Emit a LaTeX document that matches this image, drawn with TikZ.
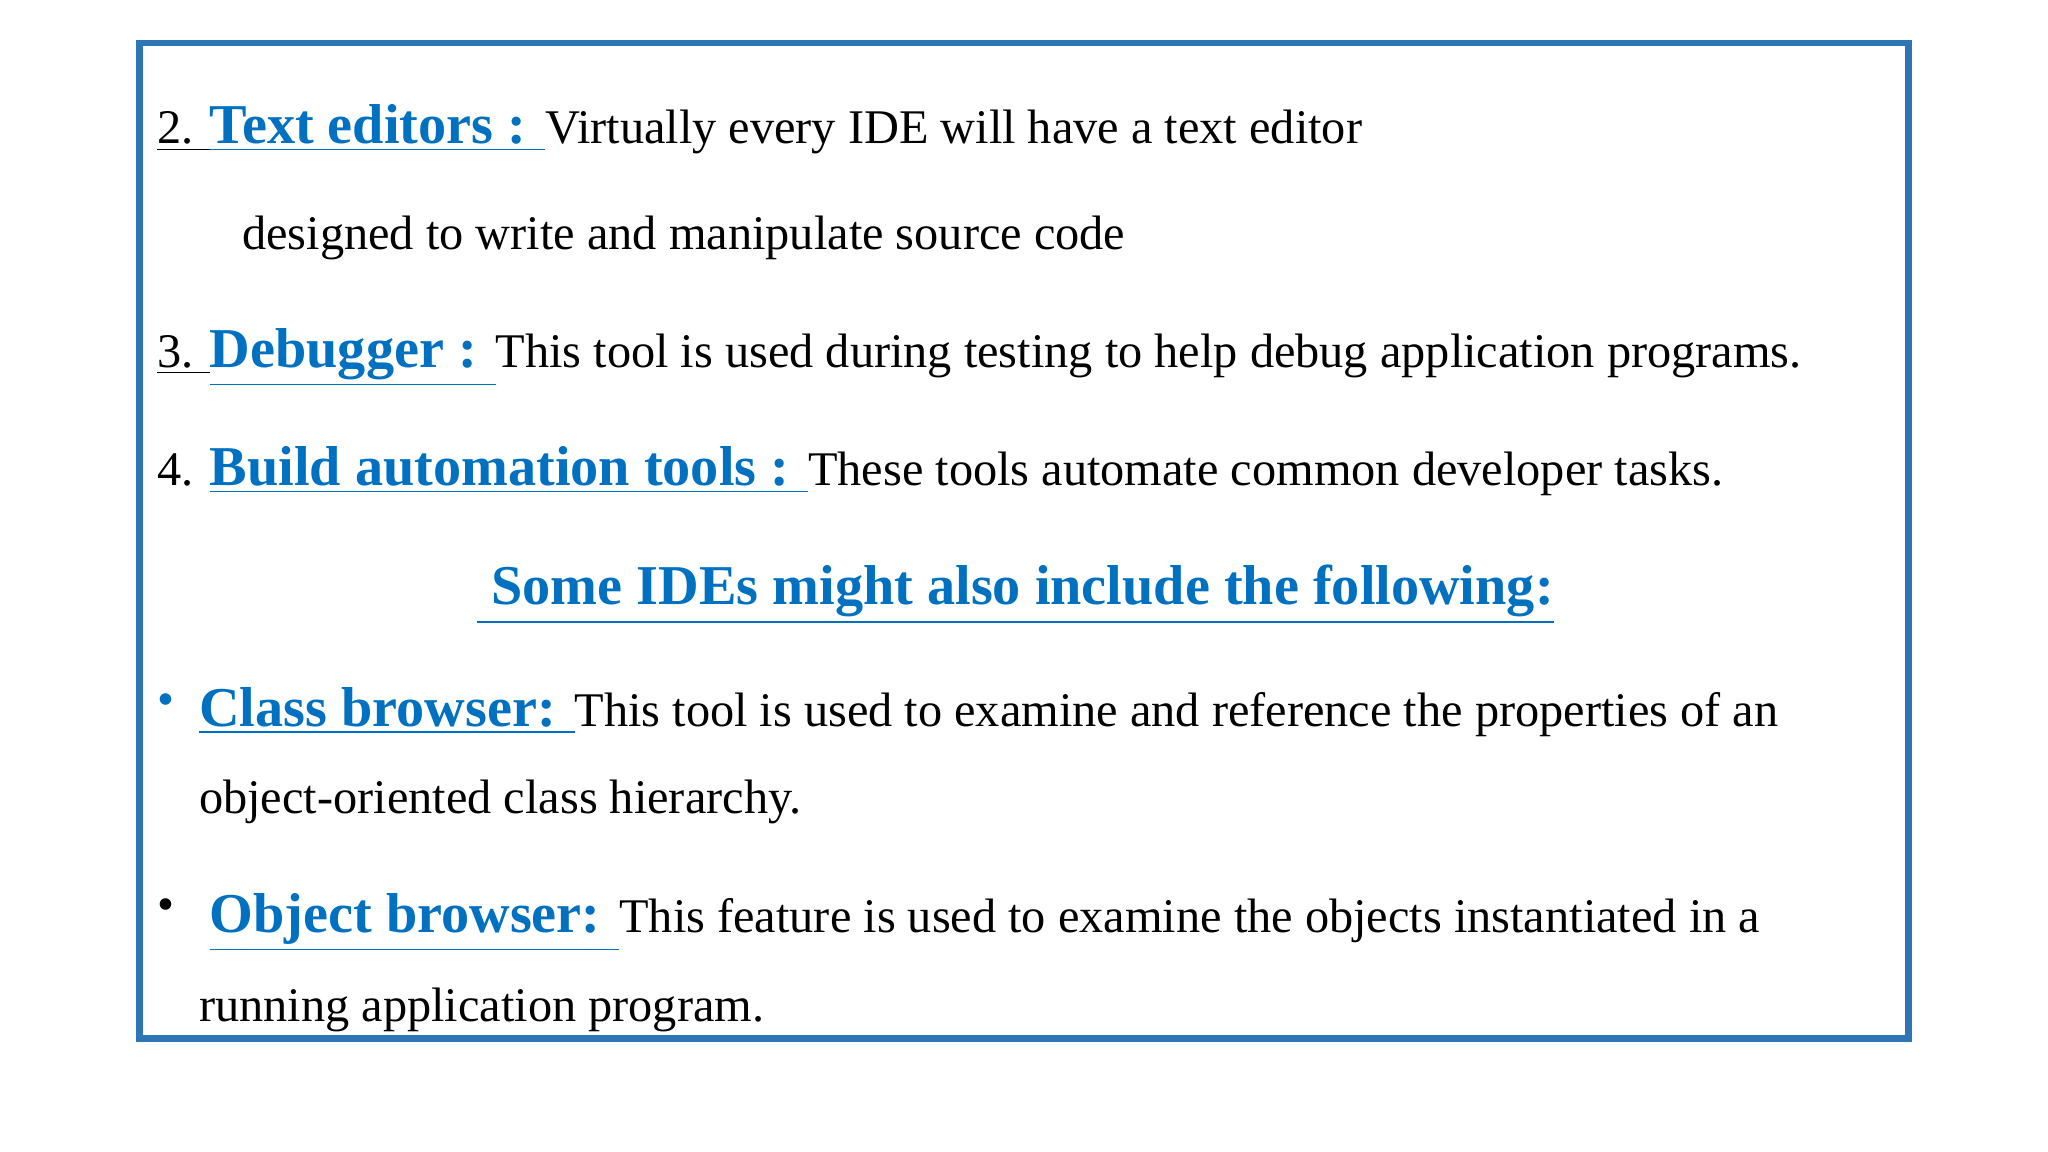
\documentclass[tikz,border=0pt]{standalone}
\usepackage{fontspec}
\setmainfont{Liberation Serif}
\definecolor{ttl}{RGB}{0,112,192}
\definecolor{frm}{RGB}{46,117,182}
\newcommand{\kw}[1]{\textcolor{ttl}{\fontsize{16}{19}\selectfont\bfseries\underline{#1}}}
\tikzset{txt/.style={anchor=base west,inner sep=0pt,font=\fontsize{13.75}{16}\selectfont}}
\begin{document}
\begin{tikzpicture}[x=0.013062cm,y=-0.013062cm]
\useasboundingbox (0,0) rectangle (1568,882);
\draw[frm,line width=1.9pt] (107,33) rectangle (1461,795);
\node[txt] (l1) at (120,110) {\underline{2. }\kw{Text editors : }Virtually every IDE will have a text editor};
\node[txt] (l2) at (185,191) {designed to write and manipulate source code};
\node[txt] (l3) at (120,281) {\underline{3. }\kw{Debugger : }This tool is used during testing to help debug application programs.};
\node[txt] (l4) at (120,372) {4. \kw{Build automation tools : }These tools automate common developer tasks.};
\node[txt] (h) at (365,463) {\kw{ Some IDEs might also include the following:}};
\node[txt,text=ttl] (b1) at (120,548) {\textbullet};
\node[txt] (l5) at (152,556) {\kw{Class browser: }This tool is used to examine and reference the properties of an};
\node[txt] (l6) at (152,623) {object-oriented class hierarchy.};
\node[txt] (b2) at (120,705) {\textbullet};
\node[txt] (l7) at (160,714) {\kw{Object browser: }This feature is used to examine the objects instantiated in a};
\node[txt] (l8) at (152,782) {running application program.};
\end{tikzpicture}
\end{document}
